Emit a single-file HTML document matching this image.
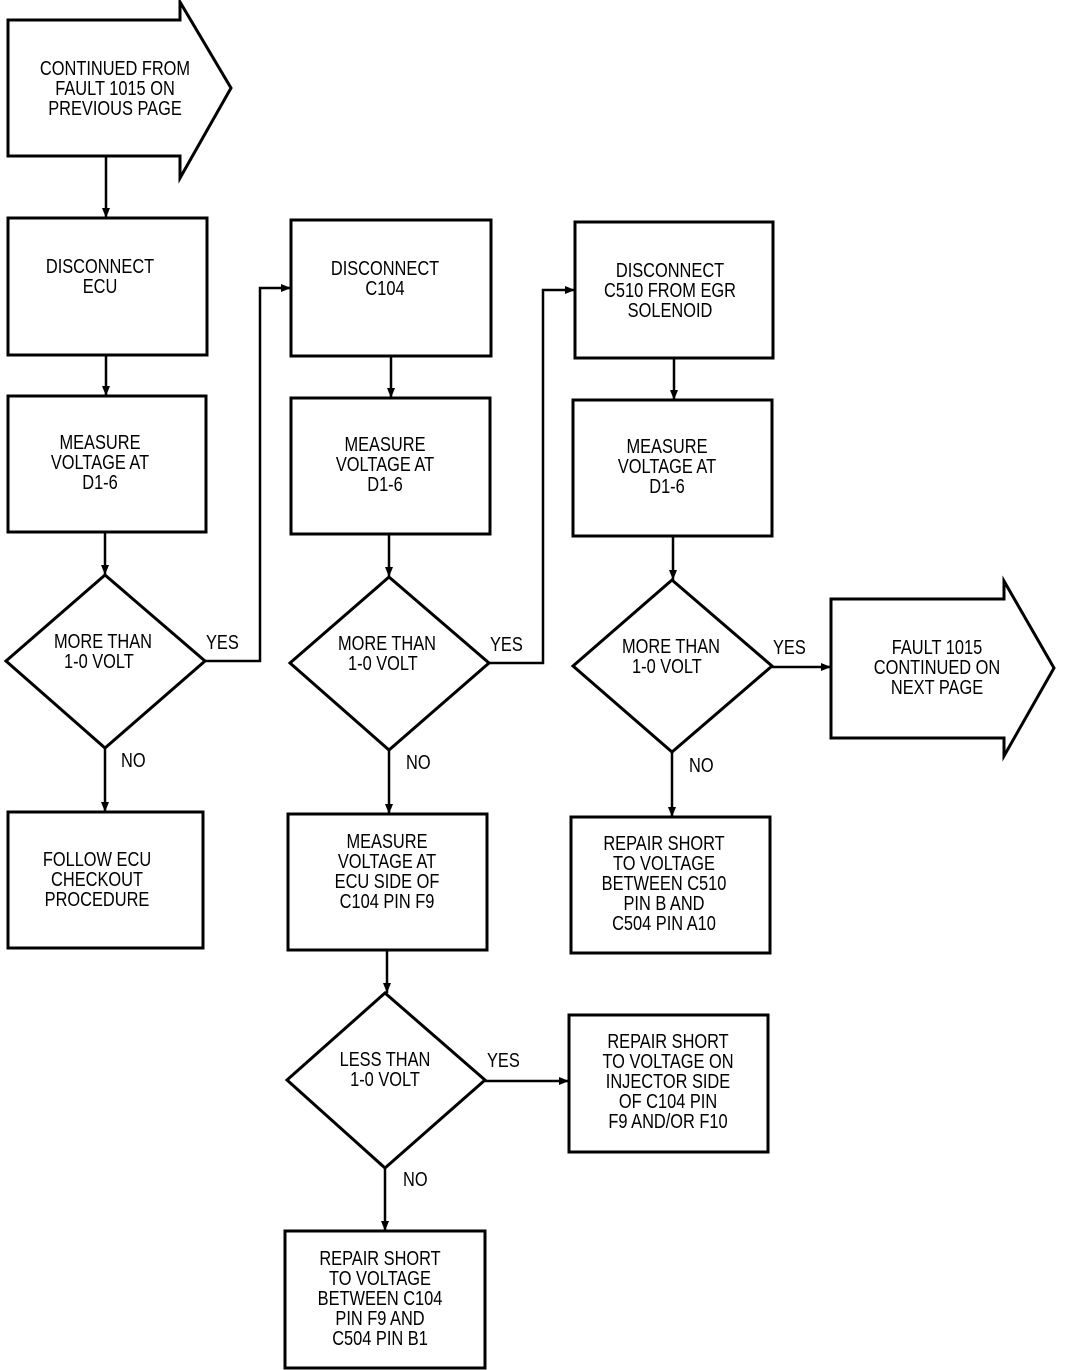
<!DOCTYPE html>
<html><head><meta charset="utf-8"><style>
html,body{margin:0;padding:0;background:#fff;}
svg{display:block;}
text{font-family:"Liberation Sans",sans-serif;font-size:20px;fill:#000;}
</style></head><body>
<svg width="1072" height="1370" viewBox="0 0 1072 1370" xmlns="http://www.w3.org/2000/svg">
<defs>
<marker id="a" markerWidth="10" markerHeight="8" refX="10" refY="4" orient="auto" markerUnits="userSpaceOnUse">
<path d="M0,0 L10,4 L0,8 Z" fill="#000"/></marker>
</defs>
<g fill="none" stroke="#000" stroke-width="3" stroke-linejoin="miter">
<path d="M8,20 L180,20 L180,2 L231,88 L180,178 L180,156 L8,156 Z"/>
<rect x="8" y="218" width="199" height="137"/>
<rect x="8" y="396" width="198" height="136"/>
<path d="M105,575 L205,661 L105,748 L6,661 Z"/>
<rect x="8" y="812" width="195" height="136"/>
<rect x="291" y="220" width="200" height="136"/>
<rect x="291" y="398" width="199" height="136"/>
<path d="M389,577 L489,663 L389,750 L290,663 Z"/>
<rect x="288" y="814" width="199" height="136"/>
<path d="M385,993 L485,1080 L385,1168 L287,1080 Z"/>
<rect x="285" y="1231" width="200" height="137"/>
<rect x="575" y="222" width="198" height="136"/>
<rect x="573" y="400" width="199" height="136"/>
<path d="M672,580 L772,666 L672,752 L573,666 Z"/>
<rect x="571" y="817" width="199" height="136"/>
<rect x="569" y="1015" width="199" height="137"/>
<path d="M831,599 L1004,599 L1004,581 L1054,668 L1004,756 L1004,738 L831,738 Z"/>
</g>
<g fill="none" stroke="#000" stroke-width="2.5">
<line x1="106" y1="156" x2="106" y2="218" marker-end="url(#a)"/>
<line x1="106" y1="355" x2="106" y2="396" marker-end="url(#a)"/>
<line x1="105" y1="532" x2="105" y2="575" marker-end="url(#a)"/>
<line x1="105" y1="748" x2="105" y2="812" marker-end="url(#a)"/>
<line x1="391" y1="356" x2="391" y2="398" marker-end="url(#a)"/>
<line x1="389" y1="534" x2="389" y2="577" marker-end="url(#a)"/>
<line x1="389" y1="750" x2="389" y2="814" marker-end="url(#a)"/>
<line x1="387" y1="950" x2="387" y2="993" marker-end="url(#a)"/>
<line x1="385" y1="1168" x2="385" y2="1231" marker-end="url(#a)"/>
<line x1="674" y1="358" x2="674" y2="400" marker-end="url(#a)"/>
<line x1="673" y1="536" x2="673" y2="580" marker-end="url(#a)"/>
<line x1="672" y1="752" x2="672" y2="817" marker-end="url(#a)"/>
<polyline points="205,661 260,661 260,288 291,288" marker-end="url(#a)"/>
<polyline points="489,663 543,663 543,290 575,290" marker-end="url(#a)"/>
<line x1="772" y1="667" x2="831" y2="667" marker-end="url(#a)"/>
<line x1="485" y1="1081" x2="569" y2="1081" marker-end="url(#a)"/>
</g>
<g text-anchor="middle">
<g transform="translate(115,0) scale(0.82,1)"><text x="0" y="75">CONTINUED FROM</text><text x="0" y="95">FAULT 1015 ON</text><text x="0" y="115">PREVIOUS PAGE</text></g>
<g transform="translate(100,0) scale(0.82,1)"><text x="0" y="273">DISCONNECT</text><text x="0" y="293">ECU</text></g>
<g transform="translate(100,0) scale(0.82,1)"><text x="0" y="449">MEASURE</text><text x="0" y="469">VOLTAGE AT</text><text x="0" y="489">D1-6</text></g>
<g transform="translate(103,0) scale(0.82,1)"><text x="0" y="648">MORE THAN</text><text x="-5" y="668">1-0 VOLT</text></g>
<g transform="translate(97,0) scale(0.82,1)"><text x="0" y="866">FOLLOW ECU</text><text x="0" y="886">CHECKOUT</text><text x="0" y="906">PROCEDURE</text></g>
<g transform="translate(385,0) scale(0.82,1)"><text x="0" y="275">DISCONNECT</text><text x="0" y="295">C104</text></g>
<g transform="translate(385,0) scale(0.82,1)"><text x="0" y="451">MEASURE</text><text x="0" y="471">VOLTAGE AT</text><text x="0" y="491">D1-6</text></g>
<g transform="translate(387,0) scale(0.82,1)"><text x="0" y="650">MORE THAN</text><text x="-5" y="670">1-0 VOLT</text></g>
<g transform="translate(387,0) scale(0.82,1)"><text x="0" y="848">MEASURE</text><text x="0" y="868">VOLTAGE AT</text><text x="0" y="888">ECU SIDE OF</text><text x="0" y="908">C104 PIN F9</text></g>
<g transform="translate(385,0) scale(0.82,1)"><text x="0" y="1066">LESS THAN</text><text x="0" y="1086">1-0 VOLT</text></g>
<g transform="translate(380,0) scale(0.82,1)"><text x="0" y="1265">REPAIR SHORT</text><text x="0" y="1285">TO VOLTAGE</text><text x="0" y="1305">BETWEEN C104</text><text x="0" y="1325">PIN F9 AND</text><text x="0" y="1345">C504 PIN B1</text></g>
<g transform="translate(670,0) scale(0.82,1)"><text x="0" y="277">DISCONNECT</text><text x="0" y="297">C510 FROM EGR</text><text x="0" y="317">SOLENOID</text></g>
<g transform="translate(667,0) scale(0.82,1)"><text x="0" y="453">MEASURE</text><text x="0" y="473">VOLTAGE AT</text><text x="0" y="493">D1-6</text></g>
<g transform="translate(671,0) scale(0.82,1)"><text x="0" y="653">MORE THAN</text><text x="-5" y="673">1-0 VOLT</text></g>
<g transform="translate(664,0) scale(0.82,1)"><text x="0" y="850">REPAIR SHORT</text><text x="0" y="870">TO VOLTAGE</text><text x="0" y="890">BETWEEN C510</text><text x="0" y="910">PIN B AND</text><text x="0" y="930">C504 PIN A10</text></g>
<g transform="translate(668,0) scale(0.82,1)"><text x="0" y="1048">REPAIR SHORT</text><text x="0" y="1068">TO VOLTAGE ON</text><text x="0" y="1088">INJECTOR SIDE</text><text x="0" y="1108">OF C104 PIN</text><text x="0" y="1128">F9 AND/OR F10</text></g>
<g transform="translate(937,0) scale(0.82,1)"><text x="0" y="654">FAULT 1015</text><text x="0" y="674">CONTINUED ON</text><text x="0" y="694">NEXT PAGE</text></g>
</g>
<g>
<g transform="translate(206,649) scale(0.82,1)"><text>YES</text></g>
<g transform="translate(121,767) scale(0.82,1)"><text>NO</text></g>
<g transform="translate(490,651) scale(0.82,1)"><text>YES</text></g>
<g transform="translate(406,769) scale(0.82,1)"><text>NO</text></g>
<g transform="translate(773,654) scale(0.82,1)"><text>YES</text></g>
<g transform="translate(689,772) scale(0.82,1)"><text>NO</text></g>
<g transform="translate(487,1067) scale(0.82,1)"><text>YES</text></g>
<g transform="translate(403,1186) scale(0.82,1)"><text>NO</text></g>
</g>
</svg>
</body></html>
